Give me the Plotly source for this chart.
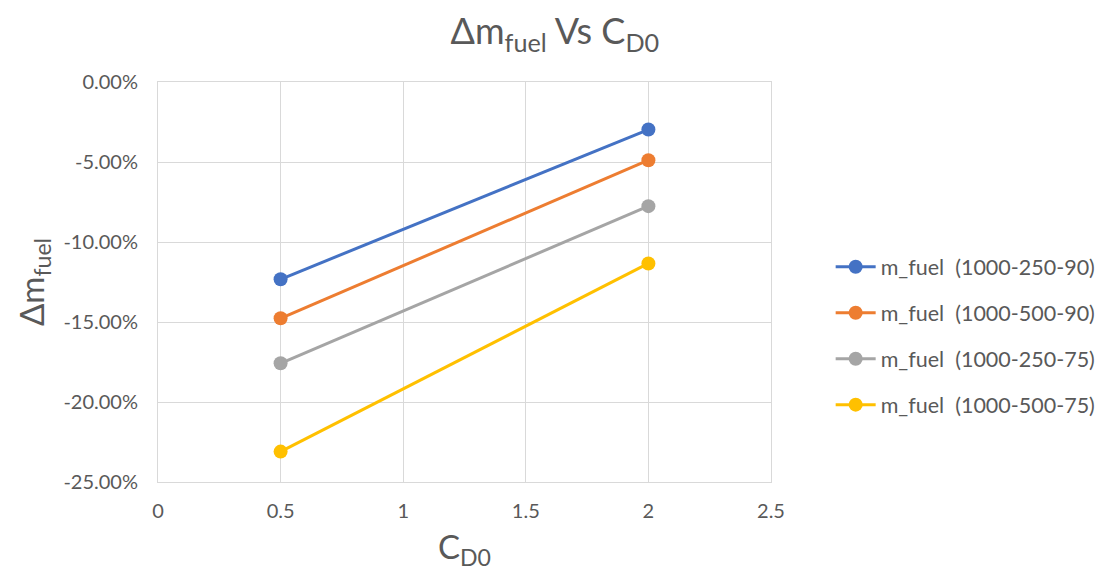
import plotly.graph_objects as go

# C_D0 values and fuel-mass change (fraction) per configuration
cd0 = [0.5, 2.0]
series_names = [
    "m_fuel&nbsp;&nbsp;(1000-250-90)",
    "m_fuel&nbsp;&nbsp;(1000-500-90)",
    "m_fuel&nbsp;&nbsp;(1000-250-75)",
    "m_fuel&nbsp;&nbsp;(1000-500-75)",
]
dm_250_90 = [-0.1233, -0.0297]
dm_500_90 = [-0.1477, -0.0489]
dm_250_75 = [-0.1758, -0.0776]
dm_500_75 = [-0.2310, -0.1134]
colors = ["#4472C4", "#ED7D31", "#A5A5A5", "#FFC000"]

x_ticks = [0, 0.5, 1, 1.5, 2, 2.5]
x_tick_text = ["0", "0.5", "1", "1.5", "2", "2.5"]
y_ticks = [0, -0.05, -0.10, -0.15, -0.20, -0.25]
y_tick_text = ["0.00%", "-5.00%", "-10.00%", "-15.00%", "-20.00%", "-25.00%"]

font_family = "Lato, 'Open Sans', sans-serif"
text_color = "#595959"
grid_color = "#D9D9D9"

fig = go.Figure()
for i, (name, vals, col) in enumerate(zip(series_names,
                                          [dm_250_90, dm_500_90, dm_250_75, dm_500_75],
                                          colors)):
    fig.add_trace(go.Scatter(
        x=cd0, y=vals, name=name, mode="lines+markers",
        legendgroup=f"g{i}",
        line=dict(color=col, width=3),
        marker=dict(color=col, size=14),
    ))

fig.update_layout(
    width=1112, height=579,
    paper_bgcolor="white", plot_bgcolor="white",
    margin=dict(l=158, r=341, t=82, b=97),
    font=dict(family=font_family, color=text_color, size=20),
    title=dict(
        text="Δm<sub>fuel</sub> Vs C<sub>D0</sub>",
        x=0.499, xref="container", xanchor="center",
        y=0.945, yref="container", yanchor="middle",
        font=dict(size=36, color=text_color, family=font_family),
    ),
    legend=dict(
        x=0.747, xref="container", xanchor="left",
        y=0.42, yref="container", yanchor="middle",
        font=dict(size=21.5, color=text_color, family=font_family),
        tracegroupgap=15, itemwidth=40,
        bgcolor="rgba(0,0,0,0)",
    ),
    xaxis=dict(
        range=[0, 2.5], tickvals=x_ticks, ticktext=x_tick_text,
        showgrid=True, gridcolor=grid_color, gridwidth=1,
        showline=True, linecolor=grid_color, linewidth=1, mirror=True,
        zeroline=False, ticks="", ticklabelstandoff=11,
        tickfont=dict(size=20, color=text_color),
        title=dict(text="C<sub>D0</sub>", standoff=14,
                   font=dict(size=33, color=text_color)),
    ),
    yaxis=dict(
        range=[-0.25, 0], tickvals=y_ticks, ticktext=y_tick_text,
        showgrid=True, gridcolor=grid_color, gridwidth=1,
        showline=True, linecolor=grid_color, linewidth=1, mirror=True,
        zeroline=False, ticks="", ticklabelstandoff=15,
        tickfont=dict(size=20, color=text_color),
        title=dict(text="Δm<sub>fuel</sub>", standoff=8,
                   font=dict(size=33, color=text_color)),
    ),
)

fig.write_html("out.html")
